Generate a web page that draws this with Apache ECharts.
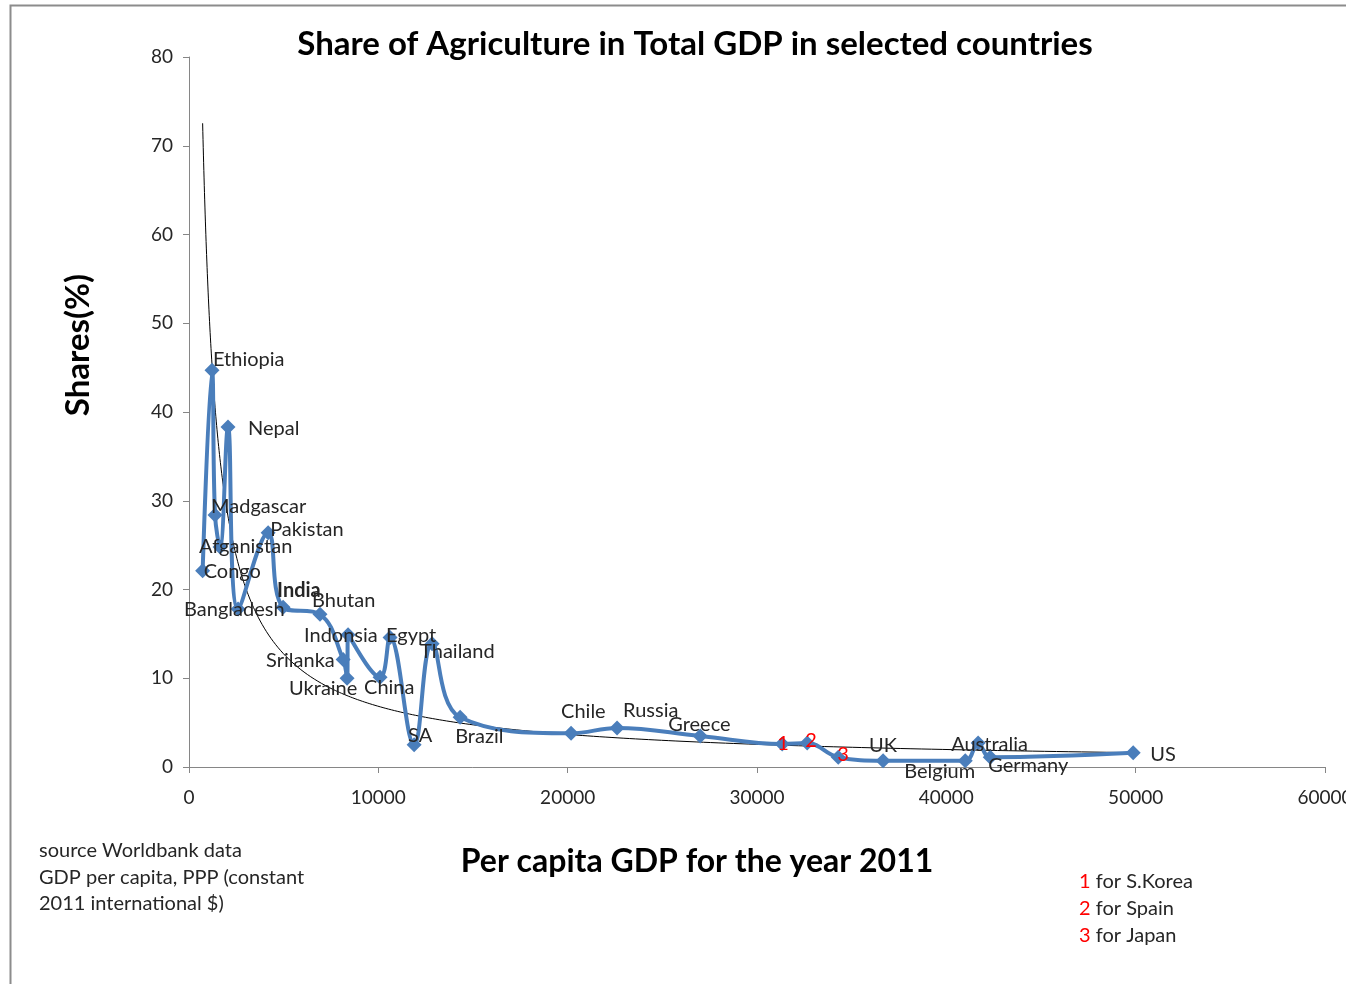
<!DOCTYPE html>
<html>
<head>
<meta charset="utf-8">
<script src="https://cdn.jsdelivr.net/npm/echarts@6/dist/echarts.min.js"></script>
<style>
html,body{margin:0;padding:0;background:#fff;}
#chart{width:1346px;height:984px;}
</style>
</head>
<body>
<div id="chart"></div>
<script>
// ---- data ----
var countries = ['Congo','Ethiopia','Madgascar','Afganistan','Nepal','Bangladesh','Pakistan','India','Bhutan','Srilanka','Ukraine','Indonsia','China','Egypt','SA','Thailand','Brazil','Chile','Russia','Greece','S.Korea','Spain','Japan','UK','Belgium','Australia','Germany','US'];
var gdpPerCapita = [720,1215,1375,1640,2060,2590,4180,4970,6920,8140,8350,8400,10090,10620,11890,12840,14320,20180,22610,27000,31330,32650,34290,36660,41000,41680,42320,49870];
var agriShare = [22.1,44.7,28.4,24.8,38.3,17.8,26.4,18.0,17.2,12.1,10.0,14.9,10.1,14.6,2.5,13.9,5.6,3.8,4.4,3.5,2.6,2.7,1.1,0.7,0.7,2.7,1.1,1.6];
var pointLabels = ['Congo','Ethiopia','Madgascar','Afganistan','Nepal','Bangladesh','Pakistan','India','Bhutan','Srilanka','Ukraine','Indonsia','China','Egypt','SA','Thailand','Brazil','Chile','Russia','Greece','1','2','3','UK','Belgium','Australia','Germany','US'];
var yTicks = [0,10,20,30,40,50,60,70,80];
var xTicks = [0,10000,20000,30000,40000,50000,60000];
var sourceLines = ['source Worldbank data','GDP per capita, PPP (constant','2011 international $)'];
var noteNumbers = ['1','2','3'];
var noteTexts = [' for S.Korea',' for Spain',' for Japan'];

// ---- label placement (style, not data): [dx from point to text start, dy from point to text middle]
var labelOffsets = {
  'Congo':[1,1],'Ethiopia':[1,-11],'Madgascar':[-4,-8],'Afganistan':[-21,0],'Nepal':[20,1],
  'Bangladesh':[-54,1],'Pakistan':[2,-3],'India':[-6,-17],'Bhutan':[-8,-14],'Srilanka':[-77,1],
  'Ukraine':[-58,10],'Indonsia':[-44,1],'China':[-16,10],'Egypt':[-4,-2],'SA':[-6,-9],
  'Thailand':[-12,8],'Brazil':[-5,19],'Chile':[-10,-22],'Russia':[6,-17],'Greece':[-32,-11],
  'S.Korea':[-5,0],'Spain':[-2,-2],'Japan':[-1,-3],'UK':[-14,-15],'Belgium':[-61,11],
  'Australia':[-27,2],'Germany':[-2,8],'US':[17,2]
};

var FONT = 'Lato';
var SYM = 15;
var seriesData = countries.map(function(c,i){
  var off = labelOffsets[c] || [0,0];
  var isNum = /^[0-9]$/.test(pointLabels[i]);
  return {
    name: c,
    value: [gdpPerCapita[i], agriShare[i]],
    label: {
      show: true,
      formatter: pointLabels[i],
      position: [SYM/2 + off[0], SYM/2 + off[1]],
      align: 'left',
      verticalAlign: 'middle',
      color: isNum ? '#ff0000' : '#262626',
      fontWeight: c === 'India' ? 'bold' : 'normal'
    }
  };
});

// power trendline (least squares on log-log of the data)
var n = gdpPerCapita.length, sx=0, sy=0, sxx=0, sxy=0;
for (var i=0;i<n;i++){ var lx=Math.log(gdpPerCapita[i]), ly=Math.log(agriShare[i]); sx+=lx; sy+=ly; sxx+=lx*lx; sxy+=lx*ly; }
var b = (n*sxy - sx*sy)/(n*sxx - sx*sx);
var a = Math.exp((sy - b*sx)/n);
var xMin = Math.min.apply(null,gdpPerCapita), xMax = Math.max.apply(null,gdpPerCapita);
var trend = [];
for (var k=0;k<=300;k++){ var xx = xMin*Math.pow(xMax/xMin,k/300); trend.push([xx, a*Math.pow(xx,b)]); }

var chart = echarts.init(document.getElementById('chart'), null, {renderer:'canvas'});
var graphics = [
  {type:'rect', shape:{x:10.5,y:5.5,width:1400,height:1100}, style:{fill:'none',stroke:'#8c8c8c',lineWidth:2}, silent:true},
  {type:'text', x:78, y:345, rotation:Math.PI/2, style:{text:'Shares(%)', font:'bold 33px '+FONT, fill:'#000', align:'center', verticalAlign:'middle'}},
  {type:'text', x:697, y:862, style:{text:'Per capita GDP for the year 2011', font:'bold 32px '+FONT, fill:'#000', align:'center', verticalAlign:'middle'}}
];
sourceLines.forEach(function(t,i){
  graphics.push({type:'text', x:39, y:851+i*26.5, style:{text:t, font:'20px '+FONT, fill:'#262626', align:'left', verticalAlign:'middle'}});
});
noteNumbers.forEach(function(nm,i){
  graphics.push({type:'text', x:1079, y:882+i*27, style:{
    text:'{r|'+nm+'}{k|'+noteTexts[i]+'}', align:'left', verticalAlign:'middle',
    rich:{r:{fill:'#ff0000', font:'20px '+FONT}, k:{fill:'#262626', font:'20px '+FONT}}}});
});

chart.setOption({
  animation:false,
  backgroundColor:'#fff',
  title:{ text:'Share of Agriculture in Total GDP in selected countries', left:690, top:23, textAlign:'center',
    textStyle:{fontFamily:FONT, fontWeight:'bold', fontSize:33, color:'#000'} },
  grid:{ left:189, right:21, top:57, bottom:217, containLabel:false, outerBoundsMode:'none' },
  xAxis:{ type:'value', min:0, max:60000, interval:10000,
    axisLine:{lineStyle:{color:'#868686'}}, axisTick:{show:true, length:6, lineStyle:{color:'#868686'}},
    splitLine:{show:false},
    axisLabel:{ color:'#262626', fontFamily:FONT, fontSize:19, margin:21,
      formatter:function(v){ return xTicks.indexOf(v)>=0 ? String(v) : ''; } } },
  yAxis:{ type:'value', min:0, max:80, interval:10,
    axisLine:{show:true, lineStyle:{color:'#868686'}}, axisTick:{show:true, length:6, lineStyle:{color:'#868686'}},
    splitLine:{show:false},
    axisLabel:{ color:'#262626', fontFamily:FONT, fontSize:19, margin:16,
      formatter:function(v){ return yTicks.indexOf(v)>=0 ? String(v) : ''; } } },
  graphic: graphics,
  series:[
    { type:'line', data:trend, showSymbol:false, symbol:'none', smooth:false, z:1,
      lineStyle:{color:'#000', width:1}, silent:true },
    { type:'line', data:seriesData, smooth:0.4, z:3,
      symbol:'diamond', symbolSize:SYM, itemStyle:{color:'#4a7ebb'},
      lineStyle:{color:'#4a7ebb', width:4},
      label:{fontFamily:FONT, fontSize:20},
      labelLayout:{hideOverlap:false} }
  ]
});
</script>
</body>
</html>
